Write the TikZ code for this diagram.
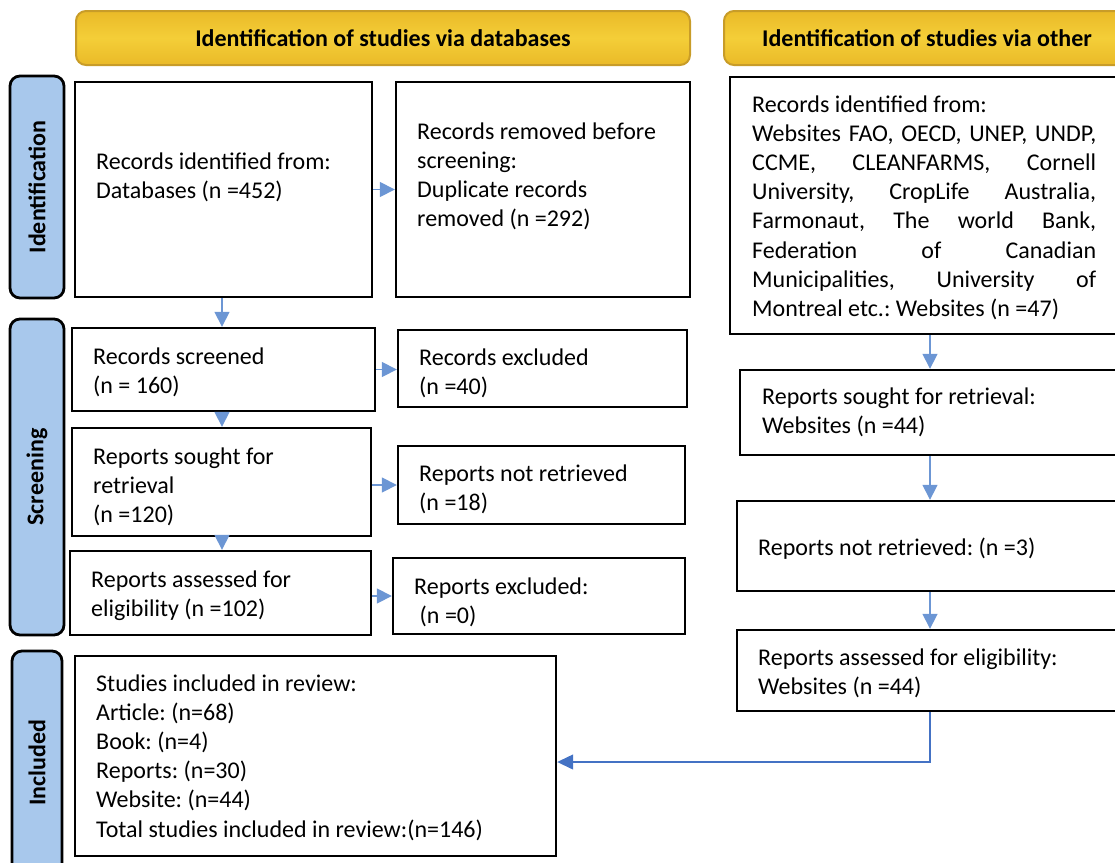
\documentclass[tikz,border=0pt]{standalone}
\usepackage{fontspec}
\setmainfont{Carlito}
\usetikzlibrary{arrows.meta,calc}
\definecolor{arrowblue}{RGB}{108,150,212}
\definecolor{linkblue}{RGB}{68,114,196}
\definecolor{goldmid}{RGB}{244,206,56}
\definecolor{goldout}{RGB}{234,186,40}
\definecolor{goldedge}{RGB}{200,156,40}
\definecolor{sideblue}{RGB}{168,200,236}
\newcommand\jline[1]{\makebox[344pt][l]{#1}}
\newcommand\nsp{\spaceskip=0pt\xspaceskip=0pt\relax}
\frenchspacing
\begin{document}
\begin{tikzpicture}[x=1pt,y=-1pt,
  box/.style={draw=black, line width=2.4pt, inner sep=0pt, fill=white},
  txt/.style={anchor=base west, inner sep=0pt, text width=#1,
    font=\fontsize{24}{29.2}\selectfont},
  txt/.default=330pt,
  hdr/.style={draw=goldedge, line width=2pt, rounded corners=10pt,
    top color=goldout, bottom color=goldout, middle color=goldmid,
    minimum height=54pt, inner sep=0pt, font=\fontsize{24}{29}\selectfont\bfseries},
  side/.style={draw=black, line width=2.8pt, rounded corners=10pt, fill=sideblue,
    rotate=90, inner sep=0pt, font=\fontsize{24}{29}\selectfont\bfseries},
  arr/.style={draw=arrowblue, line width=1.6pt, -{Triangle[length=15pt,width=15pt]}},
  link/.style={draw=linkblue, line width=1.3pt, -{Triangle[length=16pt,width=15pt]}}
]
\useasboundingbox (0,0) rectangle (1115,862);
\clip (0,0) rectangle (1115,862);

% headers
\node[hdr, minimum width=614pt] (H1) at (383,38) {Identification of studies via databases};
\node[hdr, minimum width=406pt] (H2) at (927,38) {Identification of studies via other};

% side labels
\node[side, minimum width=222pt, minimum height=54pt] (S1) at (37,187) {Identification};
\node[side, minimum width=316pt, minimum height=54pt] (S2) at (37,477) {Screening};
\node[side, minimum width=224pt, minimum height=50pt] (S3) at (37,763) {Included};

% boxes
\node[box, minimum width=297pt, minimum height=215pt] (A) at (223.5,189.5) {};
\node[box, minimum width=294pt, minimum height=215pt] (B) at (543,189.5) {};
\node[box, minimum width=405pt, minimum height=257pt] (C) at (932.5,205.5) {};
\node[box, minimum width=303pt, minimum height=83pt] (D) at (223.5,369.5) {};
\node[box, minimum width=289pt, minimum height=77pt] (E) at (542.5,368.5) {};
\node[box, minimum width=299pt, minimum height=108pt] (F) at (221.5,482) {};
\node[box, minimum width=287pt, minimum height=78pt] (G) at (541.5,485) {};
\node[box, minimum width=301pt, minimum height=84pt] (H) at (220.5,593) {};
\node[box, minimum width=292pt, minimum height=76pt] (I) at (539,596) {};
\node[box, minimum width=395pt, minimum height=85pt] (J) at (937.5,412.5) {};
\node[box, minimum width=398pt, minimum height=90pt] (K) at (936,546) {};
\node[box, minimum width=398pt, minimum height=81pt] (L) at (936,670.5) {};
\node[box, minimum width=481pt, minimum height=200pt] (M) at (315.5,756) {};

% texts
\node[txt] (tA) at (96,169) {\nsp Records identified from:\\Databases (n =452)};
\node[txt] (tB) at (417,139) {\nsp Records removed before\\screening:\\Duplicate records\\removed (n =292)};
\node[txt=360pt] (tC) at (752,112) {\nsp Records identified from:\\
\jline{Websites\hfill FAO,\hfill OECD,\hfill UNEP,\hfill UNDP,}\\
\jline{CCME,\hfill CLEANFARMS,\hfill Cornell}\\
\jline{University,\hfill CropLife\hfill Australia,}\\
\jline{Farmonaut,\hfill The\hfill world\hfill Bank,}\\
\jline{Federation\hfill of\hfill Canadian}\\
\jline{Municipalities,\hfill University\hfill of}\\
Montreal etc.: Websites (n =47)};
\node[txt] (tD) at (93,364) {\nsp Records screened\\(n = 160)};
\node[txt] (tE) at (419,365) {\nsp Records excluded\\(n =40)};
\node[txt] (tF) at (93,464) {\nsp Reports sought for\\retrieval\\(n =120)};
\node[txt] (tG) at (419,481) {\nsp Reports not retrieved\\(n =18)};
\node[txt] (tH) at (91,587) {\nsp Reports assessed for\\eligibility (n =102)};
\node[txt] (tI) at (414,594) {\nsp Reports excluded:\\\hspace*{5.5pt}(n =0)};
\node[txt=360pt] (tJ) at (762,404) {\nsp Reports sought for retrieval:\\Websites (n =44)};
\node[txt=360pt] (tK) at (758,555) {\nsp Reports not retrieved: (n =3)};
\node[txt=360pt] (tL) at (758,665) {\nsp Reports assessed for eligibility:\\Websites (n =44)};
\node[txt=450pt] (tM) at (96,691) {\nsp Studies included in review:\\Article: (n=68)\\Book: (n=4)\\Reports: (n=30)\\Website: (n=44)\\Total studies included in review:(n=146)};

% connectors
\coordinate (rx) at (930,0);
\coordinate (lx) at (222,0);
\draw[arr] (A.east) -- (B.west);
\draw[arr] (A.south -| lx) -- (D.north -| lx);
\draw[arr] (D.east) -- (D.east -| E.west);
\draw[arr] (D.south -| lx) -- (F.north -| lx);
\draw[arr] (G.west -| F.east) -- (G.west);
\draw[arr] (F.south -| lx) -- (H.north -| lx);
\draw[arr] (I.west -| H.east) -- (I.west);
\draw[arr] (C.south -| rx) -- (J.north -| rx);
\draw[arr] (J.south -| rx) -- (K.north -| rx);
\draw[arr] (K.south -| rx) -- (L.north -| rx);
\coordinate (mIn) at ($(M.east)+(0,6)$);
\draw[link] (L.south -| rx) |- (mIn);
\end{tikzpicture}
\end{document}
